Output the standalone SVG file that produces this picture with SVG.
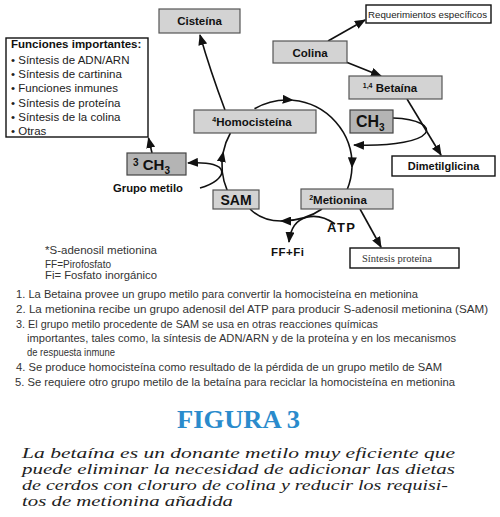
<svg xmlns="http://www.w3.org/2000/svg" width="500" height="517" viewBox="0 0 500 517">
<style>
.g{fill:#d3d3d3;stroke:#555;stroke-width:1.2}
.d{fill:#b4b4b4;stroke:#444;stroke-width:1.2}
.w{fill:#fff;stroke:#111;stroke-width:1.4}
.b{font-family:"Liberation Sans",Arial,sans-serif;font-weight:bold;fill:#111}
.t{font-family:"Liberation Sans",Arial,sans-serif;fill:#222}
.c{fill:none;stroke:#111;stroke-width:1.6}
.n{font-family:"Liberation Sans",Arial,sans-serif;font-size:10.5px;fill:#333}
.it{font-family:"Liberation Serif","Times New Roman",serif;font-style:italic;font-size:14px;fill:#222}
</style>
<defs>
<marker id="ah" markerUnits="userSpaceOnUse" markerWidth="11" markerHeight="9" refX="10" refY="4.5" orient="auto">
<path d="M0,0 L11,4.5 L0,9 z" fill="#111"/>
</marker>
</defs>
<g id="connectors">
<path class="c" d="M225 110 Q210 70 200 35" marker-end="url(#ah)"/>
<path class="c" d="M152 153 L148.5 138" marker-end="url(#ah)"/>
<path class="c" d="M200 188 C228 180 234 160 188 163" marker-end="url(#ah)"/>
<path class="c" d="M328 41 L365 20" marker-end="url(#ah)"/>
<path class="c" d="M346 62 L381 76" marker-end="url(#ah)"/>
<path class="c" d="M407 99 L441 155" marker-end="url(#ah)"/>
<path class="c" d="M393 118 C445 120 440 148 354 145" marker-end="url(#ah)"/>
<path class="c" d="M360 209 L381 247" marker-end="url(#ah)"/>
<path class="c" d="M254.5 108.7 A65 65 0 0 1 292.7 100.2" marker-end="url(#ah)"/>
<path class="c" d="M292.7 100.2 A65 65 0 0 1 352 167.3" marker-end="url(#ah)"/>
<path class="c" d="M352 167.3 A65 65 0 0 1 347.3 189.3"/>
<path class="c" d="M227.2 190.4 A65 65 0 0 1 223.3 152" marker-end="url(#ah)"/>
<path class="c" d="M223.3 152 A65 65 0 0 1 230.4 133"/>
<path class="c" d="M322 209 Q305 221 281 221" marker-end="url(#ah)"/>
<path class="c" d="M281 221 Q262 221 250 209"/>
<path class="c" d="M335 224 C318 212 292 212 289 242" marker-end="url(#ah)"/>
</g>
<g id="cisteina"><rect class="g" x="159" y="9" width="81" height="24"/><text class="b" x="199.5" y="25" font-size="11.5" text-anchor="middle">Cisteína</text></g>
<g id="funciones">
<rect class="w" x="6" y="38" width="142" height="99" stroke-width="2"/>
<text class="b" x="11" y="48" font-size="11.5">Funciones importantes:</text>
<text class="t" font-size="11.5"><tspan x="11" y="64">• Síntesis de ADN/ARN</tspan><tspan x="11" y="78">• Síntesis de cartinina</tspan><tspan x="11" y="92">• Funciones inmunes</tspan><tspan x="11" y="107">• Síntesis de proteína</tspan><tspan x="11" y="121">• Síntesis de la colina</tspan><tspan x="11" y="135">• Otras</tspan></text>
</g>
<g id="requerimientos"><rect class="w" x="366" y="5" width="125" height="18"/><text class="t" x="368" y="18" font-size="9.5" fill="#444" textLength="119" lengthAdjust="spacingAndGlyphs">Requerimientos específicos</text></g>
<g id="colina"><rect class="g" x="273" y="41" width="74" height="22"/><text class="b" x="310" y="56.5" font-size="11.5" text-anchor="middle">Colina</text></g>
<g id="betaina"><rect class="g" x="349" y="76" width="93" height="23"/><text class="b" x="390" y="92" font-size="11.5" text-anchor="middle"><tspan font-size="7" dy="-4">1,4</tspan><tspan dy="4"> Betaína</tspan></text></g>
<g id="ch3-right"><rect class="d" x="350" y="110" width="43" height="23"/><text class="b" x="356" y="127" font-size="16">CH<tspan font-size="10" dy="4">3</tspan></text></g>
<g id="dimetilglicina"><rect class="w" x="392" y="156" width="103" height="20"/><text class="b" x="443.5" y="170" font-size="11" text-anchor="middle">Dimetilglicina</text></g>
<g id="homocisteina"><rect class="g" x="194" y="110" width="122" height="23"/><text class="b" x="252" y="126" font-size="11.5" text-anchor="middle"><tspan font-size="7" dy="-4">4</tspan><tspan dy="4">Homocisteína</tspan></text></g>
<g id="metionina"><rect class="g" x="301" y="189" width="92" height="20"/><text class="b" x="338" y="204" font-size="11.5" text-anchor="middle"><tspan font-size="7" dy="-4">2</tspan><tspan dy="4">Metionina</tspan></text></g>
<g id="sam"><rect class="g" x="213" y="190" width="46" height="19"/><text class="b" x="236" y="205" font-size="14" text-anchor="middle">SAM</text></g>
<g id="ch3-left"><rect class="d" x="127" y="153" width="59" height="22"/><text class="b" x="133" y="170" font-size="15"><tspan font-size="10" dy="-4">3</tspan><tspan dy="4"> CH</tspan><tspan font-size="10" dy="4">3</tspan></text></g>
<text class="b" x="113" y="192" font-size="11.5" textLength="70" lengthAdjust="spacingAndGlyphs">Grupo metilo</text>
<text class="b" x="327" y="232" font-size="13" textLength="28">ATP</text>
<text class="b" x="271" y="256" font-size="11.5" textLength="33">FF+Fi</text>
<g id="sintesis-proteina"><rect class="w" x="350" y="248" width="109" height="20"/><text x="362" y="262" font-family="'Liberation Serif','Times New Roman',serif" font-size="11" fill="#333" textLength="70" lengthAdjust="spacingAndGlyphs">Síntesis proteína</text></g>
<g class="n">
<text x="45" y="254" textLength="112" lengthAdjust="spacingAndGlyphs">*S-adenosil metionina</text>
<text x="45" y="268" textLength="66" lengthAdjust="spacingAndGlyphs">FF=Pirofosfato</text>
<text x="45" y="279" textLength="112" lengthAdjust="spacingAndGlyphs">Fi= Fosfato inorgánico</text>
<text x="16" y="298" textLength="402" lengthAdjust="spacingAndGlyphs">1. La Betaina provee un grupo metilo para convertir la homocisteína en metionina</text>
<text x="16" y="313" textLength="472" lengthAdjust="spacingAndGlyphs">2. La metionina recibe un grupo adenosil del ATP para producir S-adenosil metionina (SAM)</text>
<text x="16" y="328" textLength="362" lengthAdjust="spacingAndGlyphs">3. El grupo metilo procedente de SAM se usa en otras reacciones químicas</text>
<text x="27" y="342" textLength="429" lengthAdjust="spacingAndGlyphs">importantes, tales como, la síntesis de ADN/ARN y de la proteína y en los mecanismos</text>
<text x="27" y="356" textLength="88" lengthAdjust="spacingAndGlyphs">de respuesta inmune</text>
<text x="16" y="371" textLength="426" lengthAdjust="spacingAndGlyphs">4. Se produce homocisteína como resultado de la pérdida de un grupo metilo de SAM</text>
<text x="15" y="386" textLength="440" lengthAdjust="spacingAndGlyphs">5. Se requiere otro grupo metilo de la betaína para reciclar la homocisteína en metionina</text>
</g>
<text x="177" y="428" font-family="'Liberation Serif','Times New Roman',serif" font-weight="bold" font-size="25" fill="#2a8bcc" textLength="123" lengthAdjust="spacingAndGlyphs">FIGURA 3</text>
<g class="it">
<text x="22" y="458" textLength="433" lengthAdjust="spacingAndGlyphs">La betaína es un donante metilo muy eficiente que</text>
<text x="22" y="474" textLength="433" lengthAdjust="spacingAndGlyphs">puede eliminar la necesidad de adicionar las dietas</text>
<text x="22" y="490" textLength="426" lengthAdjust="spacingAndGlyphs">de cerdos con cloruro de colina y reducir los requisi-</text>
<text x="22" y="506" textLength="211" lengthAdjust="spacingAndGlyphs">tos de metionina añadida</text>
</g>
</svg>
